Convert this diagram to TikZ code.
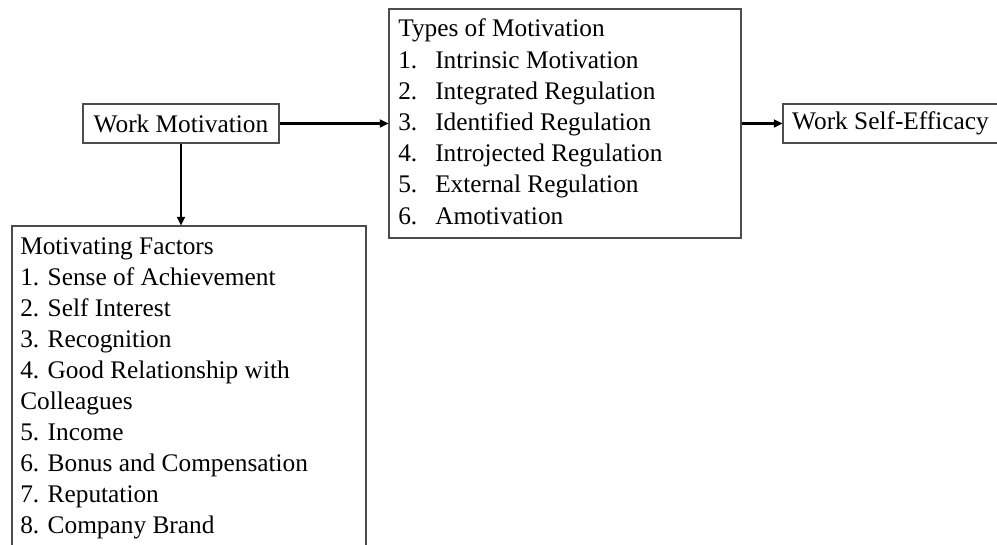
\documentclass[tikz,border=0pt]{standalone}
\usepackage{fontspec}
\setmainfont{Liberation Serif}
\usetikzlibrary{arrows.meta}
\begin{document}
\begin{tikzpicture}[x=0.75pt,y=-0.75pt,
  box/.style={draw=black!70, line width=0.8pt, inner sep=0pt, rectangle, font=\fontsize{19}{23.4}\selectfont},
  txt/.style={inner sep=0pt, anchor=base west},
  arr/.style={line width=1.6pt, draw=black, -{Triangle[length=6.5pt,width=6pt]}}]
\useasboundingbox (0,0) rectangle (997,545);
\clip (0,0) rectangle (997,545);
% boxes
\node[box, minimum width=147pt, minimum height=29.25pt] (wm) at (181,123.5) {Work Motivation};
\node[box, minimum width=264pt, minimum height=171.75pt] (types) at (565,123.5) {};
\node[box, minimum width=161.25pt, minimum height=29.25pt] (wse) at (890.5,123.5) {Work Self-Efficacy};
\node[box, minimum width=265.5pt, minimum height=265.5pt] (mf) at (189,403) {};
% texts
\node[txt, font=\fontsize{19}{23.4}\selectfont] (typestext) at (398,37) {%
  \begin{tabular}[t]{@{}l@{}}
  Types of Motivation\\
  \makebox[27.75pt][l]{1.}Intrinsic Motivation\\
  \makebox[27.75pt][l]{2.}Integrated Regulation\\
  \makebox[27.75pt][l]{3.}Identified Regulation\\
  \makebox[27.75pt][l]{4.}Introjected Regulation\\
  \makebox[27.75pt][l]{5.}External Regulation\\
  \makebox[27.75pt][l]{6.}Amotivation
  \end{tabular}};
\node[txt, font=\fontsize{19}{23.2}\selectfont] (mftext) at (20,255) {%
  \begin{tabular}[t]{@{}l@{}}
  Motivating Factors\\
  1. Sense of Achievement\\
  2. Self Interest\\
  3. Recognition\\
  4. Good Relationship with\\
  Colleagues\\
  5. Income\\
  6. Bonus and Compensation\\
  7. Reputation\\
  8. Company Brand
  \end{tabular}};
% connectors
\draw[arr] (wm.east) -- (types.west);
\draw[arr] (types.east) -- (wse.west);
\draw[arr] (wm.south) -- (wm.south |- mf.north);
\end{tikzpicture}
\end{document}
